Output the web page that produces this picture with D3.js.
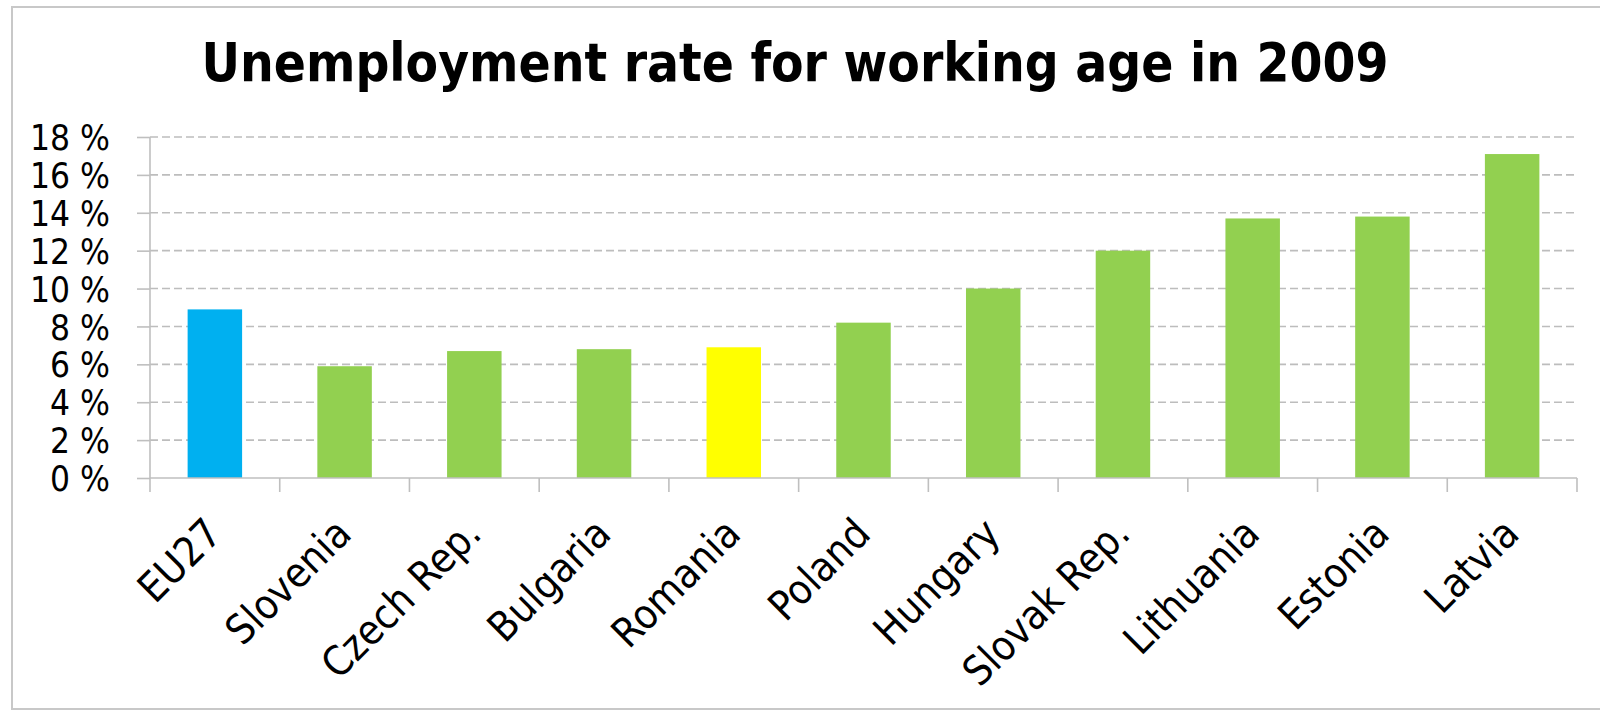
<!DOCTYPE html>
<html>
<head>
<meta charset="utf-8">
<script src="https://cdn.jsdelivr.net/npm/d3@7"></script>
<style>
  body { margin: 0; background: #fff; }
  svg { display: block; }
  .frame { fill: none; stroke: #c8c8c8; stroke-width: 2; }
  .grid line { stroke: #bdbdbd; stroke-width: 1.6; stroke-dasharray: 8 4; }
  .axis path, .axis line { stroke: #bfbfbf; stroke-width: 1.6; }
  text { font-family: "DejaVu Sans", sans-serif; font-stretch: condensed; fill: #000; }
</style>
</head>
<body>
<div id="chart"></div>
<script>
var countries = ["EU27", "Slovenia", "Czech Rep.", "Bulgaria", "Romania", "Poland",
                 "Hungary", "Slovak Rep.", "Lithuania", "Estonia", "Latvia"];
var rates = [8.9, 5.9, 6.7, 6.8, 6.9, 8.2, 10.0, 12.0, 13.7, 13.8, 17.1];
var barColors = ["#00b0f0", "#92d050", "#92d050", "#92d050", "#ffff00", "#92d050",
                 "#92d050", "#92d050", "#92d050", "#92d050", "#92d050"];
var yTicks = [0, 2, 4, 6, 8, 10, 12, 14, 16, 18];
var titleText = "Unemployment rate for working age in 2009";

var W = 1600, H = 711;
var margin = {top: 137, right: 23, bottom: 233, left: 150};
var width = W - margin.left - margin.right,
    height = H - margin.top - margin.bottom;

var svg = d3.select("#chart").append("svg")
    .attr("width", W)
    .attr("height", H);

// chart frame
svg.append("rect").attr("class", "frame")
    .attr("x", 12).attr("y", 7).attr("width", W).attr("height", 702);

// title
var title = svg.append("text")
    .attr("x", 795).attr("y", 81)
    .attr("text-anchor", "middle")
    .style("font-weight", "bold")
    .style("font-size", "48px")
    .text(titleText);
var tw = title.node().getComputedTextLength();
title.style("font-size", Math.min(54, 48 * 1187 / tw) + "px");

var g = svg.append("g")
    .attr("transform", "translate(" + margin.left + "," + margin.top + ")");

var x = d3.scaleBand().domain(countries).range([0, width]).paddingInner(0.58).paddingOuter(0.29);
var y = d3.scaleLinear().domain([0, 18]).range([height, 0]);

// gridlines
g.append("g").attr("class", "grid")
  .selectAll("line")
  .data(yTicks.filter(function(d) { return d > 0; }))
  .enter().append("line")
    .attr("x1", 0).attr("x2", width)
    .attr("y1", function(d) { return y(d); })
    .attr("y2", function(d) { return y(d); });

// bars
g.selectAll(".bar")
  .data(rates)
  .enter().append("rect")
    .attr("class", "bar")
    .attr("x", function(d, i) { return x(countries[i]); })
    .attr("width", x.bandwidth())
    .attr("y", function(d) { return y(d); })
    .attr("height", function(d) { return height - y(d); })
    .attr("fill", function(d, i) { return barColors[i]; });

// y axis
var yAxis = g.append("g").attr("class", "axis")
    .call(d3.axisLeft(y).tickValues(yTicks).tickSize(13).tickPadding(27)
          .tickFormat(function(d) { return d + " %"; }));
yAxis.select(".domain").attr("d", "M0," + height + "V0");
yAxis.selectAll("text").style("font-size", "35px").attr("dy", "0.36em");

// x axis with ticks at category boundaries
var step = x.step();
var bounds = d3.range(countries.length + 1).map(function(i) { return i * step; });
var xAxisG = g.append("g").attr("class", "axis")
    .attr("transform", "translate(0," + height + ")");
xAxisG.append("line").attr("x1", 0).attr("x2", width).attr("y1", 0).attr("y2", 0);
xAxisG.selectAll(".tk").data(bounds).enter().append("line")
    .attr("x1", function(d) { return d; }).attr("x2", function(d) { return d; })
    .attr("y1", 0).attr("y2", 14);

xAxisG.selectAll(".lbl")
  .data(countries)
  .enter().append("text")
    .attr("class", "lbl")
    .attr("text-anchor", "end")
    .style("font-size", "41px")
    .attr("transform", function(d) {
      return "translate(" + (x(d) + x.bandwidth() / 2 + 9) + ",58) rotate(-45)";
    })
    .text(function(d) { return d; });
</script>
</body>
</html>
